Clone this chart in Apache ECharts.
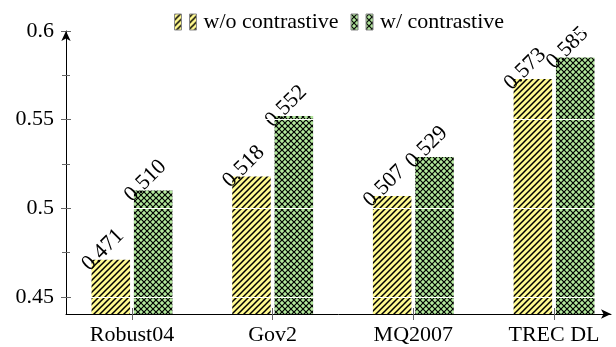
<!DOCTYPE html>
<html>
<head>
<meta charset="utf-8">
<script src="https://cdn.jsdelivr.net/npm/echarts@6/dist/echarts.min.js"></script>
<style>
  html, body { margin: 0; padding: 0; background: #fff; }
  #chart { width: 616px; height: 347px; }
</style>
</head>
<body>
<div id="chart"></div>
<script>
// Benchmark datasets and scores with / without the contrastive objective
const categories = ['Robust04', 'Gov2', 'MQ2007', 'TREC DL'];
const seriesNames = ['w/o contrastive', 'w/ contrastive'];
const withoutContrastive = [0.471, 0.518, 0.507, 0.573];
const withContrastive = [0.510, 0.552, 0.529, 0.585];
const yMajorTicks = [0.45, 0.5, 0.55, 0.6];
const yMinorTicks = [0.475, 0.525, 0.575];

const FONT = 'Liberation Serif';
const FONT_SIZE = 22;

// Hatch fills for the two bar groups
function makePattern(size, fill, lw, draw) {
  const c = document.createElement('canvas');
  c.width = size; c.height = size;
  const g = c.getContext('2d');
  g.fillStyle = fill;
  g.fillRect(0, 0, size, size);
  g.strokeStyle = '#000';
  g.lineWidth = lw;
  draw(g, size);
  return { image: c, repeat: 'repeat' };
}
const stripes = makePattern(6, '#fff98f', 1.5, (g, s) => {
  g.beginPath();
  g.moveTo(-1, s + 1); g.lineTo(s + 1, -1);
  g.moveTo(-1, 1); g.lineTo(1, -1);
  g.moveTo(s - 1, s + 1); g.lineTo(s + 1, s - 1);
  g.stroke();
});
const crosshatch = makePattern(6, '#b2e89c', 1.2, (g, s) => {
  g.beginPath();
  g.moveTo(-1, -1); g.lineTo(s + 1, s + 1);
  g.moveTo(-1, s + 1); g.lineTo(s + 1, -1);
  g.stroke();
});

const catIdx = categories.map((_, i) => i);
const X_MIN = -0.469, X_MAX = 3.405;
const Y_MIN = 0.4404, Y_MAX = 0.6;

function xAxisCfg(extra) {
  return Object.assign({
    type: 'value', min: X_MIN, max: X_MAX, position: 'bottom',
    axisLine: { show: false, onZero: false },
    axisTick: { show: false },
    axisLabel: { show: false },
    splitLine: { show: false }
  }, extra);
}
function yAxisCfg(extra) {
  return Object.assign({
    type: 'value', min: Y_MIN, max: Y_MAX, position: 'left',
    axisLine: { show: false, onZero: false },
    axisTick: { show: false },
    axisLabel: { show: false },
    splitLine: { show: false }
  }, extra);
}
const tickStyle = { color: '#666', width: 1 };
const lineStyle = { color: '#000', width: 1 };

const chart = echarts.init(document.getElementById('chart'), null, { renderer: 'canvas' });
chart.setOption({
  animation: false,
  backgroundColor: '#fff',
  textStyle: { fontFamily: FONT },
  grid: { left: 66, right: 5, top: 31, bottom: 33, containLabel: false },
  legend: {
    top: 6, left: 169,
    itemWidth: 22, itemHeight: 16, itemGap: 12,
    icon: 'path://M0,0H7V16H0Z M15,0H22V16H15Z',
    itemStyle: { borderColor: '#888', borderWidth: 1 },
    textStyle: { fontFamily: FONT, fontSize: FONT_SIZE, color: '#000', padding: [0, 0, 0, 2] },
    data: seriesNames
  },
  xAxis: [
    xAxisCfg({
      z: 6,
      axisLine: { show: true, onZero: false, symbol: ['none', 'arrow'], symbolSize: [7, 10], lineStyle },
      axisTick: { show: true, customValues: catIdx, length: 6, lineStyle: tickStyle },
      axisLabel: {
        show: true, customValues: catIdx, margin: 10,
        formatter: v => categories[Math.round(v)],
        fontFamily: FONT, fontSize: FONT_SIZE, color: '#000'
      }
    }),
    xAxisCfg({
      z: 6,
      axisTick: { show: true, inside: true, customValues: catIdx, length: 6, lineStyle: tickStyle }
    })
  ],
  yAxis: [
    yAxisCfg({
      z: 6,
      axisLine: { show: true, onZero: false, symbol: ['none', 'arrow'], symbolSize: [7, 10], lineStyle },
      axisTick: { show: true, customValues: yMajorTicks, length: 5, lineStyle: tickStyle },
      axisLabel: {
        show: true, customValues: yMajorTicks, margin: 12,
        fontFamily: FONT, fontSize: FONT_SIZE, color: '#000'
      }
    }),
    yAxisCfg({ z: 6, axisTick: { show: true, inside: true, customValues: yMajorTicks, length: 5, lineStyle: tickStyle } }),
    yAxisCfg({ z: 6, axisTick: { show: true, customValues: yMinorTicks, length: 4, lineStyle: tickStyle } }),
    yAxisCfg({ z: 6, axisTick: { show: true, inside: true, customValues: yMinorTicks, length: 4, lineStyle: tickStyle } }),
    // white major grid lines drawn over the bars
    yAxisCfg({
      z: 4,
      axisTick: { show: false, customValues: yMajorTicks },
      splitLine: { show: true, lineStyle: { color: '#fff', width: 1.2 } }
    })
  ],
  series: [
    { name: seriesNames[0], values: withoutContrastive, fill: stripes },
    { name: seriesNames[1], values: withContrastive, fill: crosshatch }
  ].map(s => ({
    type: 'bar',
    name: s.name,
    xAxisIndex: 0, yAxisIndex: 0,
    barWidth: 38.5,
    barGap: '10%',
    z: 2,
    itemStyle: { color: s.fill },
    label: {
      show: true, position: 'top', distance: 2, rotate: 45,
      formatter: p => p.value[1].toFixed(3),
      fontFamily: FONT, fontSize: FONT_SIZE, color: '#000'
    },
    data: s.values.map((v, i) => [catIdx[i], v])
  }))
});
</script>
</body>
</html>
